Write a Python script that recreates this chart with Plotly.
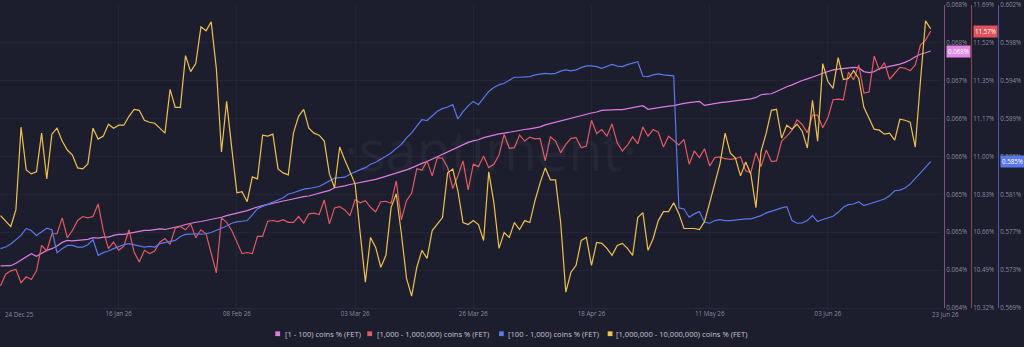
import plotly.graph_objects as go
import pandas as pd

# ---------------- data ----------------
dates = pd.date_range("2025-12-24", "2026-06-23", freq="D")

pink_1_100 = [
    0.064223, 0.064223, 0.064227, 0.064265, 0.064310, 0.064360, 0.064412, 0.064371, 0.064412, 0.064462,
    0.064488, 0.064528, 0.064584, 0.064614, 0.064607, 0.064614, 0.064614, 0.064630, 0.064656, 0.064649,
    0.064665, 0.064665, 0.064691, 0.064706, 0.064706, 0.064721, 0.064741, 0.064751, 0.064767, 0.064767,
    0.064777, 0.064792, 0.064782, 0.064797, 0.064817, 0.064832, 0.064858, 0.064881, 0.064893, 0.064904,
    0.064919, 0.064934, 0.064949, 0.064969, 0.064995, 0.065010, 0.065030, 0.065051, 0.065071, 0.065101,
    0.065127, 0.065147, 0.065162, 0.065182, 0.065197, 0.065218, 0.065234, 0.065253, 0.065269, 0.065284,
    0.065295, 0.065319, 0.065340, 0.065360, 0.065380, 0.065421, 0.065431, 0.065451, 0.065471, 0.065486,
    0.065507, 0.065517, 0.065527, 0.065550, 0.065573, 0.065596, 0.065619, 0.065641, 0.065664, 0.065695,
    0.065725, 0.065763, 0.065794, 0.065824, 0.065862, 0.065900, 0.065938, 0.065976, 0.066010, 0.066049,
    0.066090, 0.066116, 0.066140, 0.066156, 0.066189, 0.066212, 0.066232, 0.066247, 0.066257, 0.066273,
    0.066283, 0.066303, 0.066314, 0.066323, 0.066338, 0.066353, 0.066384, 0.066405, 0.066429, 0.066451,
    0.066470, 0.066490, 0.066512, 0.066527, 0.066547, 0.066566, 0.066582, 0.066607, 0.066612, 0.066618,
    0.066618, 0.066618, 0.066633, 0.066658, 0.066668, 0.066679, 0.066623, 0.066638, 0.066653, 0.066664,
    0.066673, 0.066679, 0.066699, 0.066714, 0.066725, 0.066734, 0.066744, 0.066683, 0.066699, 0.066718,
    0.066725, 0.066734, 0.066744, 0.066760, 0.066767, 0.066775, 0.066782, 0.066805, 0.066846, 0.066855,
    0.066861, 0.066896, 0.066938, 0.066968, 0.066998, 0.067033, 0.067064, 0.067090, 0.067114, 0.067144,
    0.067175, 0.067201, 0.067227, 0.067239, 0.067251, 0.067262, 0.067266, 0.067257, 0.067201, 0.067185,
    0.067201, 0.067246, 0.067262, 0.067281, 0.067297, 0.067315, 0.067342, 0.067379, 0.067429, 0.067467,
    0.067490, 0.067516,
]

red_1k_1m = [
    10.417, 10.470, 10.485, 10.491, 10.431, 10.458, 10.446, 10.485, 10.600, 10.575,
    10.653, 10.653, 10.725, 10.635, 10.668, 10.713, 10.731, 10.725, 10.731, 10.788,
    10.668, 10.586, 10.615, 10.578, 10.597, 10.671, 10.570, 10.525, 10.578, 10.563,
    10.575, 10.615, 10.631, 10.605, 10.678, 10.686, 10.671, 10.698, 10.635, 10.671,
    10.653, 10.563, 10.476, 10.725, 10.705, 10.668, 10.615, 10.563, 10.568, 10.563,
    10.641, 10.641, 10.710, 10.713, 10.708, 10.717, 10.705, 10.705, 10.731, 10.701,
    10.743, 10.746, 10.740, 10.806, 10.698, 10.770, 10.776, 10.761, 10.735, 10.807,
    10.793, 10.803, 10.773, 10.753, 10.798, 10.800, 10.791, 10.893, 10.716, 10.803,
    10.836, 10.948, 10.941, 10.983, 10.915, 10.998, 10.995, 10.953, 10.858, 10.915,
    10.983, 10.852, 10.968, 10.957, 11.005, 10.953, 10.968, 11.010, 11.103, 11.040,
    11.043, 11.100, 11.073, 11.091, 11.083, 11.085, 10.983, 11.092, 11.073, 11.020,
    11.058, 11.085, 11.088, 11.043, 11.050, 11.167, 11.107, 11.125, 11.095, 11.151,
    11.065, 11.028, 11.055, 11.092, 11.061, 11.137, 11.095, 11.125, 11.113, 11.046,
    11.095, 11.076, 11.055, 11.080, 10.968, 11.028, 10.998, 11.038, 10.960, 10.998,
    11.001, 10.993, 10.990, 10.993, 11.002, 10.938, 10.930, 11.020, 10.957, 11.032,
    10.980, 10.983, 11.073, 11.095, 11.121, 11.170, 11.148, 11.110, 11.190, 11.190,
    11.133, 11.178, 11.260, 11.263, 11.260, 11.385, 11.350, 11.418, 11.290, 11.295,
    11.458, 11.395, 11.428, 11.353, 11.380, 11.407, 11.403, 11.391, 11.418, 11.508,
    11.530, 11.571,
]

blue_100_1k = [
    0.575370, 0.575542, 0.575865, 0.576338, 0.576800, 0.577553, 0.577338, 0.576800, 0.577155, 0.577585,
    0.577413, 0.574940, 0.575370, 0.575725, 0.575725, 0.575542, 0.575542, 0.575800, 0.576338, 0.574650,
    0.574940, 0.575112, 0.575370, 0.575617, 0.575800, 0.575908, 0.575800, 0.575693, 0.575542, 0.575617,
    0.575542, 0.575908, 0.576015, 0.576187, 0.576263, 0.576693, 0.576908, 0.576940, 0.576983, 0.576940,
    0.576983, 0.577123, 0.577338, 0.577521, 0.577822, 0.578123, 0.578274, 0.578338, 0.578414, 0.579026,
    0.579704, 0.579951, 0.580166, 0.580349, 0.580640, 0.580887, 0.581285, 0.581425, 0.581586, 0.581823,
    0.581887, 0.581995, 0.582102, 0.582393, 0.582715, 0.583006, 0.583070, 0.583113, 0.583436, 0.583715,
    0.583930, 0.584145, 0.584511, 0.584726, 0.585049, 0.585404, 0.585726, 0.586232, 0.586662, 0.587372,
    0.587909, 0.588630, 0.589350, 0.589243, 0.589780, 0.590243, 0.590533, 0.590705, 0.590963, 0.589415,
    0.590211, 0.590834, 0.591318, 0.590963, 0.591673, 0.592394, 0.592824, 0.593114, 0.593286, 0.593609,
    0.593932, 0.593932, 0.593932, 0.594007, 0.594190, 0.594297, 0.594362, 0.594297, 0.594362, 0.594598,
    0.594727, 0.594620, 0.594727, 0.594975, 0.595158, 0.595158, 0.595082, 0.594900, 0.595158, 0.595330,
    0.595136, 0.595082, 0.595297, 0.595437, 0.595620, 0.594039, 0.594007, 0.594190, 0.594297, 0.594190,
    0.594114, 0.594082, 0.579779, 0.579672, 0.578768, 0.579134, 0.579381, 0.578231, 0.578123, 0.578414,
    0.578521, 0.578414, 0.578414, 0.578489, 0.578596, 0.578596, 0.578596, 0.578768, 0.578951, 0.579242,
    0.579381, 0.579596, 0.579779, 0.579919, 0.578414, 0.578123, 0.578166, 0.578414, 0.578951, 0.578306,
    0.578521, 0.578704, 0.578876, 0.579306, 0.579844, 0.580134, 0.580209, 0.580457, 0.580027, 0.580209,
    0.580382, 0.580564, 0.580747, 0.581102, 0.581640, 0.581715, 0.581930, 0.582360, 0.582962, 0.583608,
    0.584253, 0.584791,
]

yellow_1m_10m = [
    20.93, 20.88, 20.82, 20.99, 21.82, 21.39, 21.35, 21.37, 21.76, 21.30,
    21.75, 21.81, 21.68, 21.59, 21.54, 21.41, 21.40, 21.45, 21.81, 21.70,
    21.73, 21.85, 21.81, 21.84, 21.84, 21.93, 22.00, 21.99, 21.89, 21.87,
    21.86, 21.81, 21.76, 22.20, 22.02, 22.02, 22.54, 22.38, 22.46, 22.83,
    22.79, 22.88, 22.41, 21.57, 22.08, 21.61, 21.16, 21.17, 21.07, 21.32,
    21.30, 21.74, 21.73, 21.75, 21.40, 21.36, 21.34, 21.76, 21.93, 22.00,
    21.81, 21.76, 21.74, 21.68, 21.35, 21.21, 21.62, 21.49, 21.37, 21.25,
    20.75, 20.26, 20.71, 20.61, 20.41, 20.53, 21.01, 21.15, 20.75, 20.30,
    20.12, 20.41, 20.58, 20.50, 20.78, 20.85, 20.91, 21.36, 21.40, 21.18,
    20.86, 20.84, 20.88, 20.84, 20.68, 21.37, 21.06, 20.60, 20.76, 20.71,
    20.86, 20.79, 20.88, 20.86, 21.08, 21.26, 21.41, 21.29, 21.29, 20.86,
    20.16, 20.36, 20.43, 20.68, 20.71, 20.43, 20.66, 20.65, 20.60, 20.53,
    20.63, 20.65, 20.60, 20.53, 20.91, 20.96, 20.58, 20.70, 20.88, 20.97,
    20.97, 21.06, 20.95, 20.80, 20.80, 20.80, 20.79, 20.87, 21.06, 21.25,
    21.45, 21.76, 21.56, 21.51, 21.33, 21.47, 21.35, 21.01, 21.58, 21.76,
    21.99, 22.00, 21.71, 21.84, 21.80, 21.85, 21.78, 21.61, 22.09, 21.68,
    22.46, 22.28, 22.21, 22.52, 22.30, 22.31, 22.39, 22.31, 22.02, 21.91,
    21.80, 21.79, 21.75, 21.76, 21.69, 21.90, 21.89, 21.87, 21.62, 22.28,
    22.89, 22.81,
]

series_names = [
    "[1 - 100) coins % (FET)",
    "[1,000 - 1,000,000) coins % (FET)",
    "[100 - 1,000) coins % (FET)",
    "[1,000,000 - 10,000,000) coins % (FET)",
]

x_tick_dates = ["2026-01-16", "2026-02-08", "2026-03-03", "2026-03-26",
                "2026-04-18", "2026-05-11", "2026-06-03"]

# axis scales (tick start, step, count)
pink_axis = (0.06358, 0.00058, 9)
red_axis = (10.317, 0.1715, 9)
blue_axis = (0.56895, 0.0041, 9)
yellow_range = [20.00, 23.05]

# ---------------- style ----------------
BG = "#1c1d2d"
GRID = "rgba(255,255,255,0.035)"
TICK = "#8a8c9e"
PINK = "#dd7ce3"
RED = "#e35a63"
BLUE = "#5a78e8"
YELLOW = "#efc24e"
FONT = "Open Sans"
W, H = 1024, 347
PLOT_R = 942
TOP, BOT = 3, 308


def py(pix):  # pixel row -> paper y
    return (BOT - pix) / (BOT - TOP)


def axis_ticks(spec, fmt):
    t0, step, n = spec
    vals = [t0 + k * step for k in range(n)]
    return vals, [format(v, fmt) + "%" for v in vals], [t0 - step * 0.002, vals[-1] + step * 0.002]


fig = go.Figure()
fig.add_trace(go.Scatter(x=dates, y=yellow_1m_10m, name=series_names[3], yaxis="y4",
                         mode="lines", line=dict(color=YELLOW, width=1.2)))
fig.add_trace(go.Scatter(x=dates, y=blue_100_1k, name=series_names[2], yaxis="y3",
                         mode="lines", line=dict(color=BLUE, width=1.2)))
fig.add_trace(go.Scatter(x=dates, y=red_1k_1m, name=series_names[1], yaxis="y2",
                         mode="lines", line=dict(color=RED, width=1.2)))
fig.add_trace(go.Scatter(x=dates, y=pink_1_100, name=series_names[0], yaxis="y",
                         mode="lines", line=dict(color=PINK, width=1.2)))

pv, pt, pr = axis_ticks(pink_axis, ".3f")
rv, rt, rr = axis_ticks(red_axis, ".2f")
bv, bt, br = axis_ticks(blue_axis, ".3f")

tickfont = dict(family=FONT, size=6.2, color=TICK)
common_y = dict(anchor="free", side="right", tickmode="array", showline=True, linewidth=1,
                zeroline=False, ticks="", tickfont=tickfont, fixedrange=True,
                ticklabeloverflow="allow")

fig.update_layout(
    width=W, height=H,
    margin=dict(l=0, r=0, t=TOP, b=H - BOT),
    paper_bgcolor=BG, plot_bgcolor=BG,
    font=dict(family=FONT),
    showlegend=False,
    xaxis=dict(domain=[0, PLOT_R / W], type="date",
               range=["2025-12-23 21:40", "2026-06-25 04:50"],
               tickmode="array", tickvals=x_tick_dates, tickformat="%d %b %y",
               tickfont=tickfont, ticks="", showgrid=True, gridcolor=GRID,
               showline=True, linecolor="#272939", zeroline=False),
    yaxis=dict(position=944 / W, range=pr, tickvals=pv, ticktext=pt,
               linecolor="#80507f", showgrid=True, gridcolor=GRID, **common_y),
    yaxis2=dict(overlaying="y", position=971 / W, range=rr, tickvals=rv, ticktext=rt,
                linecolor="#93434d", showgrid=False, **common_y),
    yaxis3=dict(overlaying="y", position=998 / W, range=br, tickvals=bv, ticktext=bt,
                linecolor="#4a5fb0", showgrid=False, **common_y),
    yaxis4=dict(overlaying="y", range=yellow_range, visible=False),
)

# first / last x labels (left-anchored like the reference)
for d in (dates[0], dates[-1]):
    fig.add_annotation(x=d, xref="x", y=py(314.5), yref="paper", text=d.strftime("%d %b %y"),
                       xanchor="left", yanchor="middle", showarrow=False, font=tickfont,
                       xshift=2 if d == dates[0] else -1)

# current value boxes
box_font = dict(family=FONT, size=6.2, color="#ffffff")
fig.add_annotation(x=945.5 / W, xref="paper", y=pink_1_100[-1], yref="y", text=f"{pink_1_100[-1]:.3f}%",
                   xanchor="left", showarrow=False, bgcolor="#e38ae6", font=box_font, borderpad=1)
fig.add_annotation(x=972.5 / W, xref="paper", y=red_1k_1m[-1], yref="y2", text=f"{red_1k_1m[-1]:.2f}%",
                   xanchor="left", showarrow=False, bgcolor="#e0525c", font=box_font, borderpad=1)
fig.add_annotation(x=999.5 / W, xref="paper", y=blue_100_1k[-1], yref="y3", text=f"{blue_100_1k[-1]:.3f}%",
                   xanchor="left", showarrow=False, bgcolor="#5a78e8", font=box_font, borderpad=1)

# watermark
fig.add_annotation(x=490 / W, xref="paper", y=py(148), yref="paper", text="·santiment·",
                   showarrow=False, font=dict(family=FONT, size=56, color="rgba(255,255,255,0.04)"))

# legend (squares + labels)
legend_items = [(series_names[0], PINK, 275.3, 282.7),
                (series_names[1], RED, 367.3, 374.7),
                (series_names[2], BLUE, 499.0, 505.7),
                (series_names[3], YELLOW, 607.7, 613.7)]
for name, col, sx, tx in legend_items:
    fig.add_shape(type="rect", xref="paper", yref="paper", x0=sx / W, x1=(sx + 4.8) / W,
                  y0=py(336.3), y1=py(331.5), fillcolor=col, line=dict(width=0))
    fig.add_annotation(x=tx / W, xref="paper", y=py(333.8), yref="paper", text=name,
                       xanchor="left", yanchor="middle", showarrow=False,
                       font=dict(family=FONT, size=7.6, color="#c4c5d2"))

fig.write_html("out.html")
